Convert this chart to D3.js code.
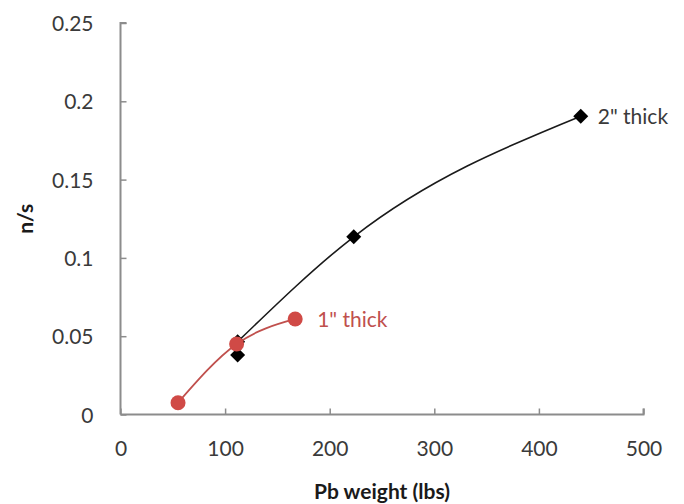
<!DOCTYPE html>
<html>
<head>
<meta charset="utf-8">
<script src="https://cdn.jsdelivr.net/npm/d3@7"></script>
<style>
html,body{margin:0;padding:0;background:#fff;}
svg{display:block;}
text{font-family:Lato,"Open Sans",sans-serif;}
</style>
</head>
<body>
<svg id="chart" width="684" height="504"></svg>
<script>
// Data
const xTicks = [0, 100, 200, 300, 400, 500];
const yTicks = [0, 0.05, 0.1, 0.15, 0.2, 0.25];
const yTickLabels = ["0", "0.05", "0.1", "0.15", "0.2", "0.25"];
const thick2X = [112, 112, 223, 440];
const thick2Y = [0.038, 0.0465, 0.1135, 0.1905];
const thick1X = [55, 111, 167];
const thick1Y = [0.0075, 0.045, 0.061];
const seriesNames = ["2\" thick", "1\" thick"];
const xTitle = "Pb weight (lbs)";
const yTitle = "n/s";

const svg = d3.select("#chart");
const x = d3.scaleLinear().domain([0, 500]).range([120.5, 643.5]);
const y = d3.scaleLinear().domain([0, 0.25]).range([414.5, 23]);

const axisColor = "#8c8c8c";
const textColor = "#3a3a3a";
const red = "#c0504d";
const fs = "21px";

// Y axis (ticks inside, pointing right)
const yAxis = svg.append("g").attr("transform", `translate(${x(0)},0)`)
  .call(d3.axisRight(y).tickValues(yTicks).tickSize(6).tickFormat(""));
yAxis.select(".domain").attr("stroke", axisColor).attr("stroke-width", 2).attr("d", `M6,${y(0.25)}H0V${y(0)}`);
yAxis.selectAll(".tick line").attr("stroke", axisColor).attr("stroke-width", 1.5);

yAxis.selectAll(".tick").append("text")
  .attr("x", -27).attr("dy", "0.36em").attr("text-anchor", "end")
  .attr("fill", textColor).style("font-size", fs)
  .text((d, i) => yTickLabels[i]);

// X axis (ticks inside, pointing up)
const xAxis = svg.append("g").attr("transform", `translate(0,${y(0)})`)
  .call(d3.axisTop(x).tickValues(xTicks).tickSize(6).tickFormat(""));
xAxis.select(".domain").attr("stroke", axisColor).attr("stroke-width", 2).attr("d", `M${x(0)},0H${x(500)}V-6`);
xAxis.selectAll(".tick line").attr("stroke", axisColor).attr("stroke-width", 1.5);
xAxis.selectAll(".tick").append("text")
  .attr("y", 34).attr("dy", "0.36em").attr("text-anchor", "middle")
  .attr("fill", textColor).style("font-size", fs)
  .text(d => d3.format("d")(d));

// Axis titles
svg.append("text").attr("x", (x(0) + x(500)) / 2).attr("y", 499)
  .attr("text-anchor", "middle").attr("fill", "#1a1a1a")
  .style("font-size", fs).style("font-weight", "bold").text(xTitle);
svg.append("text").attr("transform", `translate(33,${(y(0) + y(0.25)) / 2}) rotate(-90)`)
  .attr("text-anchor", "middle").attr("fill", "#1a1a1a")
  .style("font-size", fs).style("font-weight", "bold").text(yTitle);

const lineM = d3.line().x(d => x(d[0])).y(d => y(d[1])).curve(d3.curveMonotoneX);
const lineL = d3.line().x(d => x(d[0])).y(d => y(d[1]));

const s2 = thick2X.map((v, i) => [v, thick2Y[i]]);
const s1 = thick1X.map((v, i) => [v, thick1Y[i]]);

// 2" thick line + diamonds
svg.append("path").datum(s2.slice(1)).attr("d", lineM)
  .attr("fill", "none").attr("stroke", "#1a1a1a").attr("stroke-width", 1.6);
svg.append("path").datum(s2.slice(0, 2)).attr("d", lineL)
  .attr("fill", "none").attr("stroke", "#1a1a1a").attr("stroke-width", 1.6);
svg.selectAll(".dia").data(s2).enter().append("path")
  .attr("transform", d => `translate(${x(d[0])},${y(d[1])})`)
  .attr("d", "M0,-7.5L7.5,0L0,7.5L-7.5,0Z").attr("fill", "#000");

// 1" thick line + circles
svg.append("path").datum(s1).attr("d", lineM)
  .attr("fill", "none").attr("stroke", red).attr("stroke-width", 1.8);
svg.selectAll(".dot").data(s1).enter().append("circle")
  .attr("cx", d => x(d[0])).attr("cy", d => y(d[1])).attr("r", 7.5)
  .attr("fill", "#d04a46");

// Series labels
const last2 = s2[s2.length - 1], last1 = s1[s1.length - 1];
svg.append("text").attr("x", x(last2[0]) + 17).attr("y", y(last2[1])).attr("dy", "0.36em")
  .attr("fill", textColor).style("font-size", fs).text(seriesNames[0]);
svg.append("text").attr("x", x(last1[0]) + 22).attr("y", y(last1[1])).attr("dy", "0.36em")
  .attr("fill", red).style("font-size", fs).text(seriesNames[1]);
</script>
</body>
</html>
